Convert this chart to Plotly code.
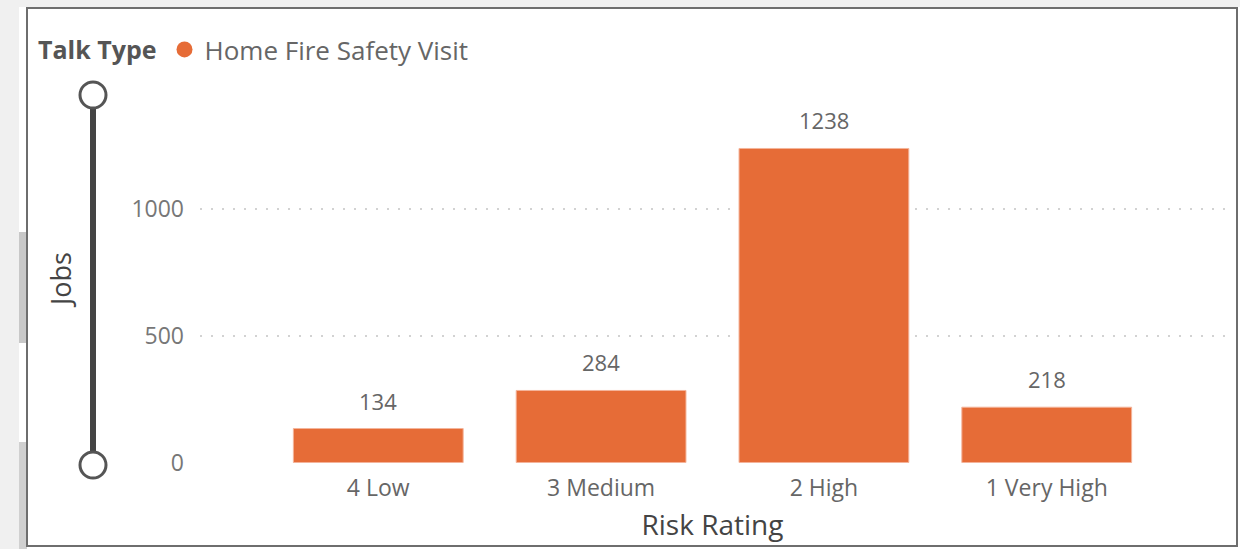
import plotly.graph_objects as go

categories = ["4 Low", "3 Medium", "2 High", "1 Very High"]
jobs = [134, 284, 1238, 218]
series_name = "Home Fire Safety Visit"
legend_title = "Talk Type"
y_ticks = [0, 500, 1000]

W, H = 1240, 549
L, R, T, B = 200, 15, 100, 86
PW, PH = W - L - R, H - T - B

def px(x):
    return (x - L) / PW

def py(y):
    return (H - B - y) / PH

BAR = "#E66C37"
FONT = "Open Sans, Noto Sans, sans-serif"

fig = go.Figure()
fig.add_trace(go.Bar(
    x=categories, y=jobs, name=series_name, showlegend=False,
    marker=dict(color=BAR, line=dict(color="#F4B49A", width=1)),
    width=0.762, hoverinfo="x+y",
))
fig.add_trace(go.Scatter(
    x=[None], y=[None], mode="markers", name=series_name,
    marker=dict(color=BAR, size=19, symbol="circle"),
))

for c, v in zip(categories, jobs):
    fig.add_annotation(x=c, y=v, text=str(v), showarrow=False, yshift=28,
                       font=dict(size=22, color="#666666", family=FONT))

shapes = []
shapes.append(dict(type="rect", xref="paper", yref="paper", x0=px(0), x1=px(19), y0=py(549), y1=py(0),
                   fillcolor="#F0F0F0", line=dict(width=0), layer="below"))
shapes.append(dict(type="rect", xref="paper", yref="paper", x0=px(0), x1=px(1240), y0=py(7), y1=py(0),
                   fillcolor="#F0F0F0", line=dict(width=0), layer="below"))
shapes.append(dict(type="rect", xref="paper", yref="paper", x0=px(19), x1=px(27), y0=py(343), y1=py(232),
                   fillcolor="#C8C8C8", line=dict(width=0), layer="below"))
shapes.append(dict(type="rect", xref="paper", yref="paper", x0=px(19), x1=px(27), y0=py(549), y1=py(442),
                   fillcolor="#D0D0D0", line=dict(width=0), layer="below"))
shapes.append(dict(type="rect", xref="paper", yref="paper", x0=px(27), x1=px(1237), y0=py(546), y1=py(8),
                   line=dict(color="#6E6E6E", width=2), fillcolor="rgba(0,0,0,0)"))
shapes.append(dict(type="line", xref="paper", yref="paper", x0=px(93), x1=px(93), y0=py(465), y1=py(95),
                   line=dict(color="#444444", width=6)))
for cy in (95, 465):
    shapes.append(dict(type="circle", xref="paper", yref="paper",
                       x0=px(93 - 13), x1=px(93 + 13), y0=py(cy + 13), y1=py(cy - 13),
                       fillcolor="white", line=dict(color="#555555", width=3)))

fig.add_annotation(xref="paper", yref="paper", x=px(60), y=py(280), text="Jobs", textangle=-90,
                   xanchor="center", yanchor="middle",
                   showarrow=False, font=dict(size=27, color="#444444", family=FONT))

fig.update_layout(
    width=W, height=H,
    margin=dict(l=L, r=R, t=T, b=B),
    paper_bgcolor="white", plot_bgcolor="white",
    font=dict(family=FONT),
    shapes=shapes,
    showlegend=True,
    legend=dict(
        orientation="h", xref="container", yref="container", x=36 / W, y=1 - 26 / H,
        xanchor="left", yanchor="top",
        title=dict(text="<b>" + legend_title + "</b>", font=dict(size=25, color="#555555", family=FONT)),
        font=dict(size=26, color="#666666", family=FONT),
        itemwidth=30, tracegroupgap=0, bgcolor="rgba(0,0,0,0)",
    ),
    xaxis=dict(
        range=[-0.8, 3.8], showgrid=False, zeroline=False, showline=False,
        tickfont=dict(size=23, color="#666666", family=FONT), ticks="", ticklabelstandoff=9,
        title=dict(text="Risk Rating", font=dict(size=28, color="#444444", family=FONT), standoff=13),
    ),
    yaxis=dict(
        range=[-2, PH / 0.254], tickvals=y_ticks, showgrid=True, gridcolor="#D2D2D2", griddash="2px,9px",
        gridwidth=2, zeroline=False, showline=False, ticks="",
        tickfont=dict(size=23, color="#777777", family=FONT), ticklabelstandoff=15,
    ),
)

fig.write_html("out.html", config={"displayModeBar": False},
               post_script="document.body.style.margin='0';document.body.style.overflow='hidden';")
